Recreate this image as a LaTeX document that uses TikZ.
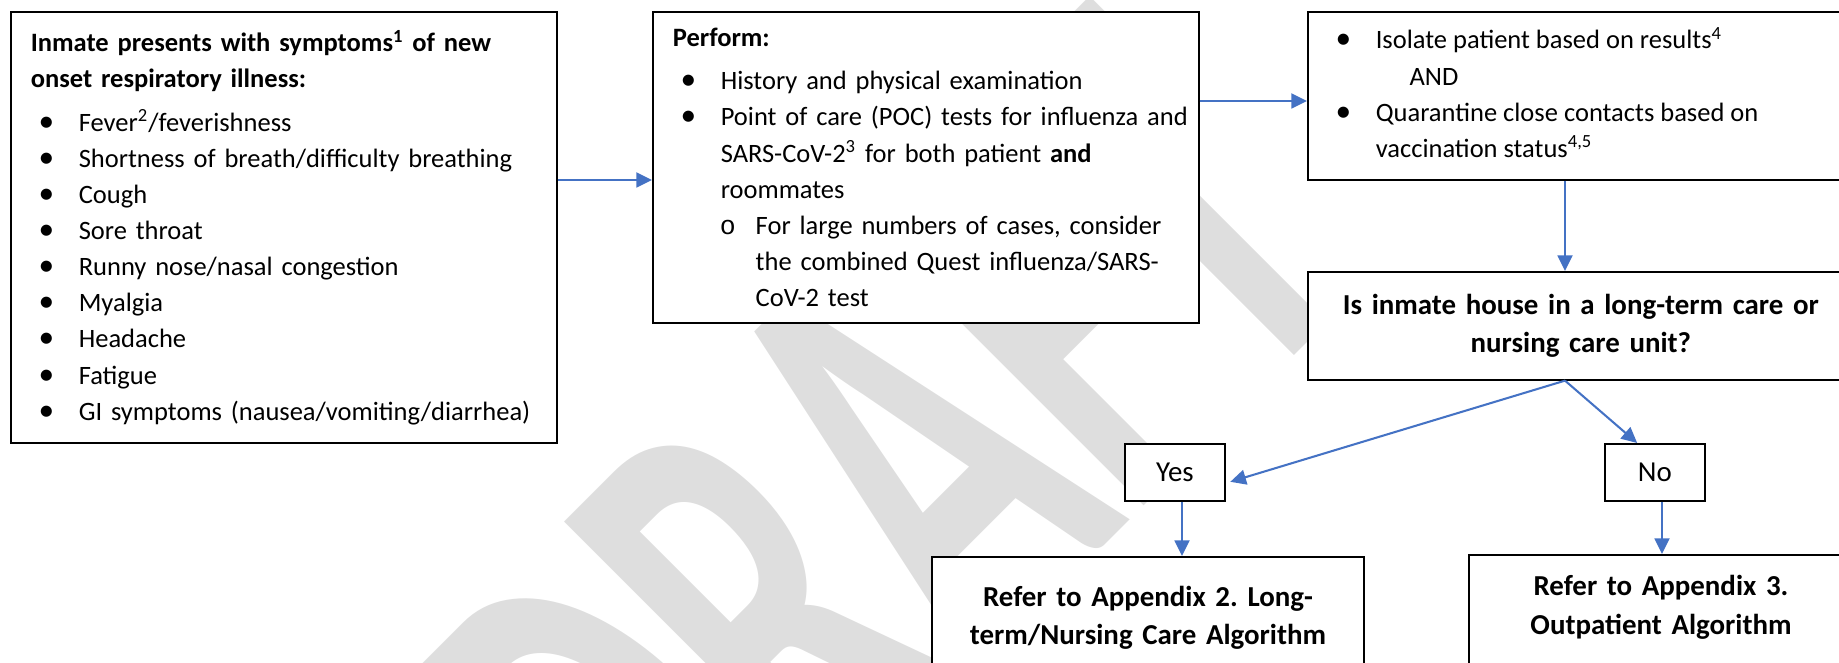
\documentclass[tikz,border=0pt]{standalone}
\usepackage{fontspec}
\usepackage{graphicx}
\usepackage{enumitem}
\setmainfont{Carlito}
\newfontfamily\monofont{Liberation Mono}
\usetikzlibrary{arrows.meta}
\frenchspacing

\definecolor{flowblue}{HTML}{4472C4}
\definecolor{markgray}{HTML}{DEDEDE}

\setlist[itemize,1]{label={\fontsize{13}{13}\selectfont\textbullet}, leftmargin=19.9pt,
  labelsep=10.2pt, itemsep=0pt, parsep=0pt, topsep=3pt, partopsep=0pt}
\setlist[itemize,2]{label={\monofont o}, leftmargin=14.5pt, labelsep=8.3pt,
  itemsep=0pt, parsep=0pt, topsep=0pt, partopsep=0pt}

\begin{document}
\begin{tikzpicture}[x=0.415pt, y=-0.415pt,
	box/.style={draw, line width=0.7pt, fill=white, inner xsep=8.3pt,
		font=\fontsize{11}{15}\selectfont},
	textbox/.style={box, anchor=north west, align=left, text width=210pt},
	askbox/.style={box, anchor=north west, align=center, text width=210pt,
		minimum height=44.8pt, font=\fontsize{12}{16}\selectfont\bfseries},
	choice/.style={box, anchor=north west, inner xsep=0pt, minimum width=41.5pt,
		minimum height=23.7pt, font=\fontsize{12}{16}\selectfont},
	referbox/.style={box, anchor=north, align=center, inner ysep=12pt, text depth=40pt,
		font=\fontsize{12}{16}\selectfont\bfseries},
	flow/.style={draw=flowblue, line width=0.85pt, -{Triangle[length=6.5pt,width=6.2pt]}}]
	\useasboundingbox (0,0) rectangle (1839,663);
	% watermark behind everything
	\node[anchor=base west, rotate=45, inner sep=0pt, text=markgray,
		font=\fontsize{150}{150}\selectfont\bfseries] (draft) at (670,980)
		{\scalebox{1}[1.7]{DRAFT}};

	\node[textbox, minimum height=178.9pt] (symptoms) at (10,11) {%
		\textbf{Inmate presents with symptoms\textsuperscript{1} of new\\
		onset respiratory illness:}
		\begin{itemize}
			\item Fever\textsuperscript{2}/feverishness
			\item Shortness of breath/difficulty breathing
			\item Cough
			\item Sore throat
			\item Runny nose/nasal congestion
			\item Myalgia
			\item Headache
			\item Fatigue
			\item GI symptoms (nausea/vomiting/diarrhea)
		\end{itemize}};
	\node[textbox, minimum height=129.1pt] (perform) at (652,11) {%
		\textbf{Perform:}
		\begin{itemize}
			\item History and physical examination
			\item \makebox[0pt][l]{Point of care (POC) tests for influenza and}\\
			SARS-CoV-2\textsuperscript{3} for both patient \textbf{and}\\
			roommates
			\begin{itemize}
				\item For large numbers of cases, consider\\
				\makebox[0pt][l]{the combined Quest influenza/SARS-}\\CoV-2 test
			\end{itemize}
		\end{itemize}};
	\node[box, anchor=north west, inner ysep=3.5pt] (isolate) at (1307,11) {%
		\parbox[c][62.7pt][t]{210pt}{\raggedright
		\begin{itemize}
			\item Isolate patient based on results\textsuperscript{4}\\
			\hspace*{14pt}AND
			\item Quarantine close contacts based on\\
			vaccination status\textsuperscript{4,5}
		\end{itemize}}};
	\node[askbox] (unit) at (1307,271)
		{Is inmate house in a long-term care or\\ nursing care unit?};
	\node[choice] (yes) at (1124,443) {Yes};
	\node[choice] (no) at (1604,443) {No};
	\node[referbox, text width=162.7pt] (refer2) at (1148,556)
		{Refer to Appendix 2. Long-\\term/Nursing Care Algorithm};
	\node[referbox, text width=142.8pt, inner ysep=8.5pt] (refer3) at (1661,554)
		{Refer to Appendix 3.\\ Outpatient Algorithm};

	\coordinate (row1) at (0,180);
	\coordinate (row2) at (0,101);
	\coordinate (split) at (1565,0);
	\coordinate (yesdrop) at (1182,0);
	\coordinate (nodrop) at (1662,0);
	\draw[flow] (symptoms.east |- row1) -- (perform.west |- row1);
	\draw[flow] (perform.east |- row2) -- (isolate.west |- row2);
	\draw[flow] (isolate.south -| split) -- (unit.north -| split);
	\draw[flow, shorten >=2pt] (unit.south -| split) -- (yes.-12);
	\draw[flow] (unit.south -| split) -- (no.121);
	\draw[flow] (yes.south -| yesdrop) -- (refer2.north -| yesdrop);
	\draw[flow] (no.south -| nodrop) -- (refer3.north -| nodrop);
\end{tikzpicture}
\end{document}
